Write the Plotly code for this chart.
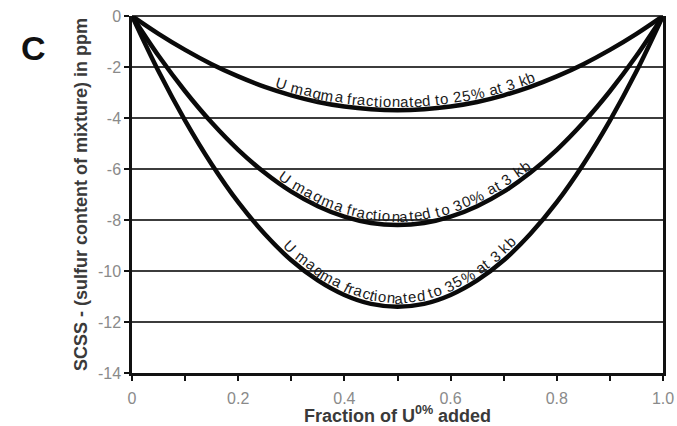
import math
import numpy as np
import plotly.graph_objects as go

# Fraction of unfractionated magma added to the fractionated magma
fraction = [0.00, 0.05, 0.10, 0.15, 0.20, 0.25, 0.30, 0.35, 0.40, 0.45, 0.50,
            0.55, 0.60, 0.65, 0.70, 0.75, 0.80, 0.85, 0.90, 0.95, 1.00]

# SCSS minus sulfur content of the mixture (ppm)
scss_25 = [0.00, -0.70, -1.33, -1.89, -2.37, -2.78, -3.11, -3.37, -3.55, -3.66, -3.70,
           -3.66, -3.55, -3.37, -3.11, -2.78, -2.37, -1.89, -1.33, -0.70, 0.00]
scss_30 = [0.00, -1.56, -2.95, -4.18, -5.25, -6.15, -6.89, -7.46, -7.87, -8.12, -8.20,
           -8.12, -7.87, -7.46, -6.89, -6.15, -5.25, -4.18, -2.95, -1.56, 0.00]
scss_35 = [0.00, -2.17, -4.10, -5.81, -7.30, -8.55, -9.58, -10.37, -10.94, -11.29, -11.40,
           -11.29, -10.94, -10.37, -9.58, -8.55, -7.30, -5.81, -4.10, -2.17, 0.00]

curve_labels = ["U magma fractionated to 25% at 3 kb",
                "U magma fractionated to 30% at 3 kb",
                "U magma fractionated to 35% at 3 kb"]

x_tick_vals = [0.0, 0.2, 0.4, 0.6, 0.8, 1.0]
x_tick_text = ["0", "0.2", "0.4", "0.6", "0.8", "1.0"]
x_minor_vals = [0.1, 0.3, 0.5, 0.7, 0.9]
y_tick_vals = [0, -2, -4, -6, -8, -10, -12, -14]
y_tick_text = ["0", "-2", "-4", "-6", "-8", "-10", "-12", "-14"]

FIG_W, FIG_H = 677, 426
MARGIN = dict(l=132, r=14, t=16, b=53)
PLOT_W = FIG_W - MARGIN["l"] - MARGIN["r"]
PLOT_H = FIG_H - MARGIN["t"] - MARGIN["b"]
X_RANGE = (0.0, 1.0)
Y_RANGE = (-14.0, 0.0)

FONT = "Liberation Sans, Arial, sans-serif"

# Helvetica/Arial advance widths (per 1000 em) used to space curved labels
ADV = {" ": 278, "U": 722, "a": 556, "b": 556, "c": 500, "d": 556, "e": 556,
       "f": 278, "g": 556, "i": 222, "k": 500, "m": 833, "n": 556, "o": 556,
       "r": 333, "t": 278, "%": 889}
for _d in "0123456789":
    ADV[_d] = 556


def to_px(x, y):
    px = MARGIN["l"] + (np.asarray(x) - X_RANGE[0]) / (X_RANGE[1] - X_RANGE[0]) * PLOT_W
    py = MARGIN["t"] + (Y_RANGE[1] - np.asarray(y)) / (Y_RANGE[1] - Y_RANGE[0]) * PLOT_H
    return px, py


def text_along_curve(xs, ys, text, x_start, x_end, size, offset, color):
    """Lay out one annotation per character following the curve (xs, ys)."""
    xd = np.linspace(X_RANGE[0], X_RANGE[1], 4001)
    yd = np.interp(xd, xs, ys)
    px, py = to_px(xd, yd)
    s = np.concatenate([[0.0], np.cumsum(np.hypot(np.diff(px), np.diff(py)))])
    s0 = float(np.interp(x_start, xd, s))
    s1 = float(np.interp(x_end, xd, s))
    widths = [ADV.get(c, 556) / 1000.0 * size for c in text]
    stretch = (s1 - s0) / sum(widths)
    anns = []
    acc = s0
    for ch, w in zip(text, widths):
        sc = acc + w * stretch / 2.0
        acc += w * stretch
        if ch == " ":
            continue
        j = int(np.clip(np.searchsorted(s, sc), 1, len(s) - 1))
        tx, ty = px[j] - px[j - 1], py[j] - py[j - 1]
        n = math.hypot(tx, ty)
        tx, ty = tx / n, ty / n
        angle = math.degrees(math.atan2(ty, tx))
        nx, ny = ty, -tx  # screen normal pointing into the bowl
        anns.append(dict(
            x=float(np.interp(sc, s, xd)), y=float(np.interp(sc, s, yd)),
            xref="x", yref="y", text=ch, showarrow=False,
            textangle=angle, xanchor="center", yanchor="middle",
            xshift=nx * offset, yshift=-ny * offset,
            font=dict(family=FONT, size=size, color=color),
        ))
    return anns


fig = go.Figure()
for ys in (scss_25, scss_30, scss_35):
    fig.add_trace(go.Scatter(
        x=fraction, y=ys, mode="lines",
        line=dict(color="#0a0a0a", width=4.5, shape="spline", smoothing=1.0),
        cliponaxis=False, showlegend=False, hoverinfo="skip",
    ))

annotations = []
label_spans = [(0.266, 0.764), (0.270, 0.756), (0.278, 0.730)]
for ys, label, (xa, xb) in zip((scss_25, scss_30, scss_35), curve_labels, label_spans):
    annotations += text_along_curve(fraction, ys, label, xa, xb, 15, 8.5, "#1a1a1a")

# panel letter, placed in pixel terms and converted to paper coordinates
annotations.append(dict(
    x=(33 - MARGIN["l"]) / PLOT_W, y=1 - (48 - MARGIN["t"]) / PLOT_H,
    xref="paper", yref="paper", text="<b>C</b>", showarrow=False,
    xanchor="center", yanchor="middle",
    font=dict(family=FONT, size=34, color="#111111"),
))

fig.update_layout(
    width=FIG_W, height=FIG_H, margin=MARGIN,
    paper_bgcolor="white", plot_bgcolor="white",
    font=dict(family=FONT),
    showlegend=False,
    annotations=annotations,
    xaxis=dict(
        range=list(X_RANGE), tickmode="array", tickvals=x_tick_vals, ticktext=x_tick_text,
        ticks="outside", ticklen=5, tickwidth=2, tickcolor="#111111",
        ticklabelstandoff=4, automargin=False,
        minor=dict(tickmode="array", tickvals=x_minor_vals, ticks="outside",
                   ticklen=5, tickwidth=2, tickcolor="#111111", showgrid=False),
        showline=True, linecolor="#111111", linewidth=2.5,
        showgrid=False, zeroline=False,
        tickfont=dict(family=FONT, size=16, color="#8a8a8a"),
        title=dict(text="<b>Fraction of U<sup>0%</sup> added</b>", standoff=3,
                   font=dict(family=FONT, size=18, color="#3a3a3a")),
    ),
    yaxis=dict(
        range=list(Y_RANGE), tickvals=y_tick_vals, ticktext=y_tick_text,
        ticks="outside", ticklen=5, tickwidth=2, tickcolor="#111111",
        automargin=False,
        showline=True, linecolor="#111111", linewidth=2.5, mirror=True,
        showgrid=True, gridcolor="#3c3c3c", gridwidth=2,
        zeroline=True, zerolinecolor="#3c3c3c", zerolinewidth=2,
        tickfont=dict(family=FONT, size=16, color="#8a8a8a"),
        title=dict(text="<b>SCSS - (sulfur content of mixture) in ppm</b>", standoff=6,
                   font=dict(family=FONT, size=18, color="#3a3a3a")),
    ),
)

fig.write_html("out.html")
